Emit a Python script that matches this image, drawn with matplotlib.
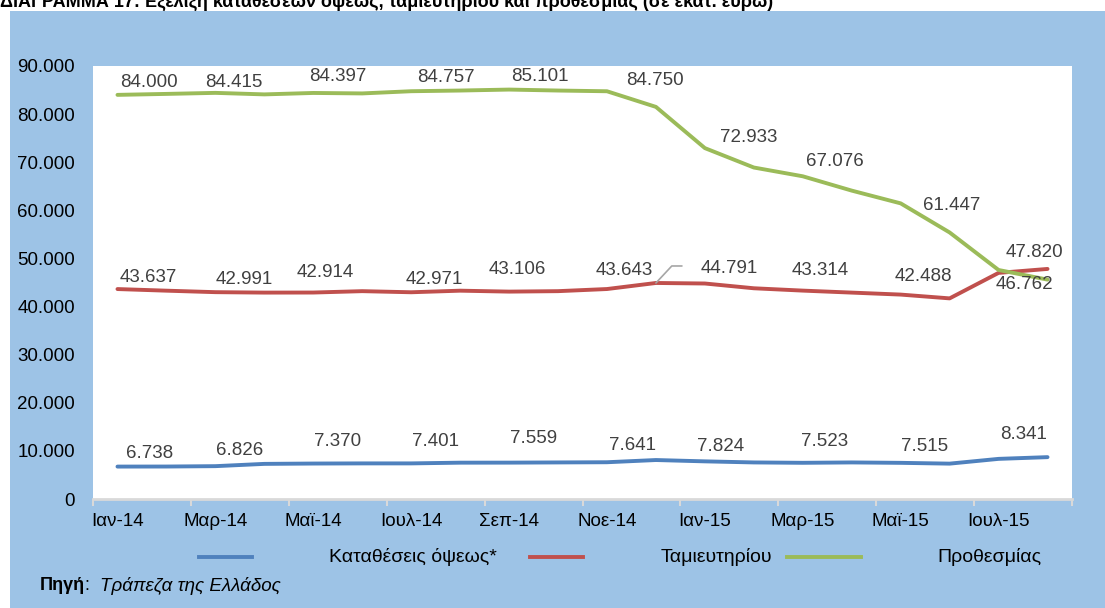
import matplotlib
matplotlib.use('Agg')
import matplotlib.pyplot as plt
from matplotlib.lines import Line2D
from matplotlib.patches import Rectangle
import numpy as np

plt.rcParams['font.family'] = ['Liberation Sans', 'DejaVu Sans']

# Μήνες (Ιαν-14 έως Αυγ-15)
months = ['Ιαν-14', 'Φεβ-14', 'Μαρ-14', 'Απρ-14', 'Μαϊ-14', 'Ιουν-14', 'Ιουλ-14', 'Αυγ-14',
          'Σεπ-14', 'Οκτ-14', 'Νοε-14', 'Δεκ-14', 'Ιαν-15', 'Φεβ-15', 'Μαρ-15', 'Απρ-15',
          'Μαϊ-15', 'Ιουν-15', 'Ιουλ-15', 'Αυγ-15']

# εκατ. ευρώ
opseos = [6738, 6750, 6826, 7300, 7370, 7400, 7401, 7550, 7559, 7600,
          7641, 8100, 7824, 7600, 7523, 7600, 7515, 7350, 8341, 8700]
tamieftiriou = [43637, 43300, 42991, 42900, 42914, 43200, 42971, 43300, 43106, 43200,
                43643, 44900, 44791, 43800, 43314, 42900, 42488, 41700, 47000, 47820]
prothesmias = [84000, 84200, 84415, 84100, 84397, 84300, 84757, 84900, 85101, 84900,
               84750, 81500, 72933, 68900, 67076, 64100, 61447, 55400, 47600, 45600]

# ετικέτες τιμών (κάθε δύο μήνες)
label_idx = [0, 2, 4, 6, 8, 10, 12, 14, 16, 18]
lab_opseos = ['6.738', '6.826', '7.370', '7.401', '7.559', '7.641', '7.824', '7.523', '7.515', '8.341']
lab_tamieft = ['43.637', '42.991', '42.914', '42.971', '43.106', '43.643', '44.791', '43.314', '42.488', '47.820']
lab_prothes = ['84.000', '84.415', '84.397', '84.757', '85.101', '84.750', '72.933', '67.076', '61.447', '46.762']

# μετατοπίσεις ετικετών (pixels)
off_opseos = [(32, 13), (24, 16), (24, 22), (24, 22), (24, 24), (26, 17), (16, 15), (22, 21), (24, 16), (25, 24)]
off_tamieft = [(31, 12), (29, 13), (12, 20), (23, 13), (8, 22), (17, 19), (24, 15), (17, 20), (23, 18), (36, 20)]
off_prothes = [(31, 12), (18, 10), (25, 16), (35, 14), (31, 13), (48, 11), (44, 11), (32, 15), (51, -2), (26, -15)]

c_blue = '#4F81BD'
c_red = '#C0504D'
c_green = '#9BBB59'
c_bg = '#9DC3E6'
W, H = 1105, 608

fig = plt.figure(figsize=(W / 100, H / 100), dpi=100)
fig.patch.set_facecolor('white')
fig.add_artist(Rectangle((10 / W, 0), 1, 1 - 11 / H, transform=fig.transFigure,
                         facecolor=c_bg, edgecolor='none', zorder=-5))

ax = fig.add_axes([93 / W, 109 / H, 979 / W, 433 / H])
ax.set_facecolor('white')

x = np.arange(len(months))
ax.plot(x, opseos, color=c_blue, lw=2.8, solid_capstyle='round', solid_joinstyle='round')
ax.plot(x, tamieftiriou, color=c_red, lw=2.8, solid_capstyle='round', solid_joinstyle='round')
ax.plot(x, prothesmias, color=c_green, lw=2.8, solid_capstyle='round', solid_joinstyle='round')

for series, labs, offs in [(opseos, lab_opseos, off_opseos),
                           (tamieftiriou, lab_tamieft, off_tamieft),
                           (prothesmias, lab_prothes, off_prothes)]:
    for k, i in enumerate(label_idx):
        ax.annotate(labs[k], xy=(i, series[i]), xytext=(offs[k][0], offs[k][1]),
                    textcoords='offset pixels', ha='center', va='center',
                    fontsize=13.5, color='#404040')

# γραμμή οδηγός για την ετικέτα του Δεκ-14
ax.annotate('', xy=(11, tamieftiriou[11]), xytext=(26, 17), textcoords='offset pixels',
            arrowprops=dict(arrowstyle='-', color='#A6A6A6', lw=1.2, shrinkA=0, shrinkB=0,
                            connectionstyle='angle,angleA=0,angleB=47,rad=0'))

ax.set_xlim(-0.5, len(months) - 0.5)
ax.set_ylim(0, 90000)

ax.set_xticks(np.arange(-0.5, len(months), 2))
ax.set_xticklabels([])
ax.set_xticks(x[::2], minor=True)
ax.set_xticklabels(months[::2], minor=True, fontsize=13.5)
ax.tick_params(axis='x', which='major', length=5, width=1.5, color='#D9D9D9')
ax.tick_params(axis='x', which='minor', length=0, pad=10)

yt = np.arange(0, 90001, 10000)
ax.set_yticks(yt)
ax.set_yticklabels([f'{v:,}'.replace(',', '.') for v in yt], fontsize=13.5)
ax.tick_params(axis='y', length=0, pad=13)

for s in ['left', 'top', 'right']:
    ax.spines[s].set_visible(False)
ax.spines['bottom'].set_color('#D9D9D9')
ax.spines['bottom'].set_linewidth(2)

# υπόμνημα
ly = 1 - 556.7 / H
for (x0, x1, col) in [(199, 252, c_blue), (530, 583, c_red), (787, 861, c_green)]:
    fig.add_artist(Line2D([x0 / W, x1 / W], [ly, ly], transform=fig.transFigure, color=col, lw=2.8))
for (xt, txt) in [(329, 'Καταθέσεις όψεως*'), (661, 'Ταμιευτηρίου'), (937, 'Προθεσμίας')]:
    fig.text(xt / W, ly, txt, fontsize=14, ha='left', va='center')

# τίτλος (κομμένος στο πάνω μέρος, όπως στο πρωτότυπο)
fig.text(0, 1 - 7 / H, 'ΔΙΑΓΡΑΜΜΑ 17: Εξέλιξη καταθέσεων όψεως, ταμιευτηρίου και προθεσμίας (σε εκατ. ευρώ)',
         fontsize=13, fontweight='bold', ha='left', va='baseline')

# πηγή
fig.text(40 / W, 1 - 586 / H, 'Πηγή', fontsize=13, fontweight='bold', ha='left', va='center')
fig.text(84 / W, 1 - 586 / H, ':', fontsize=13, ha='left', va='center')
fig.text(100 / W, 1 - 586 / H, 'Τράπεζα της Ελλάδος', fontsize=13.5, style='italic', ha='left', va='center')

fig.savefig('out.png', dpi=100)
